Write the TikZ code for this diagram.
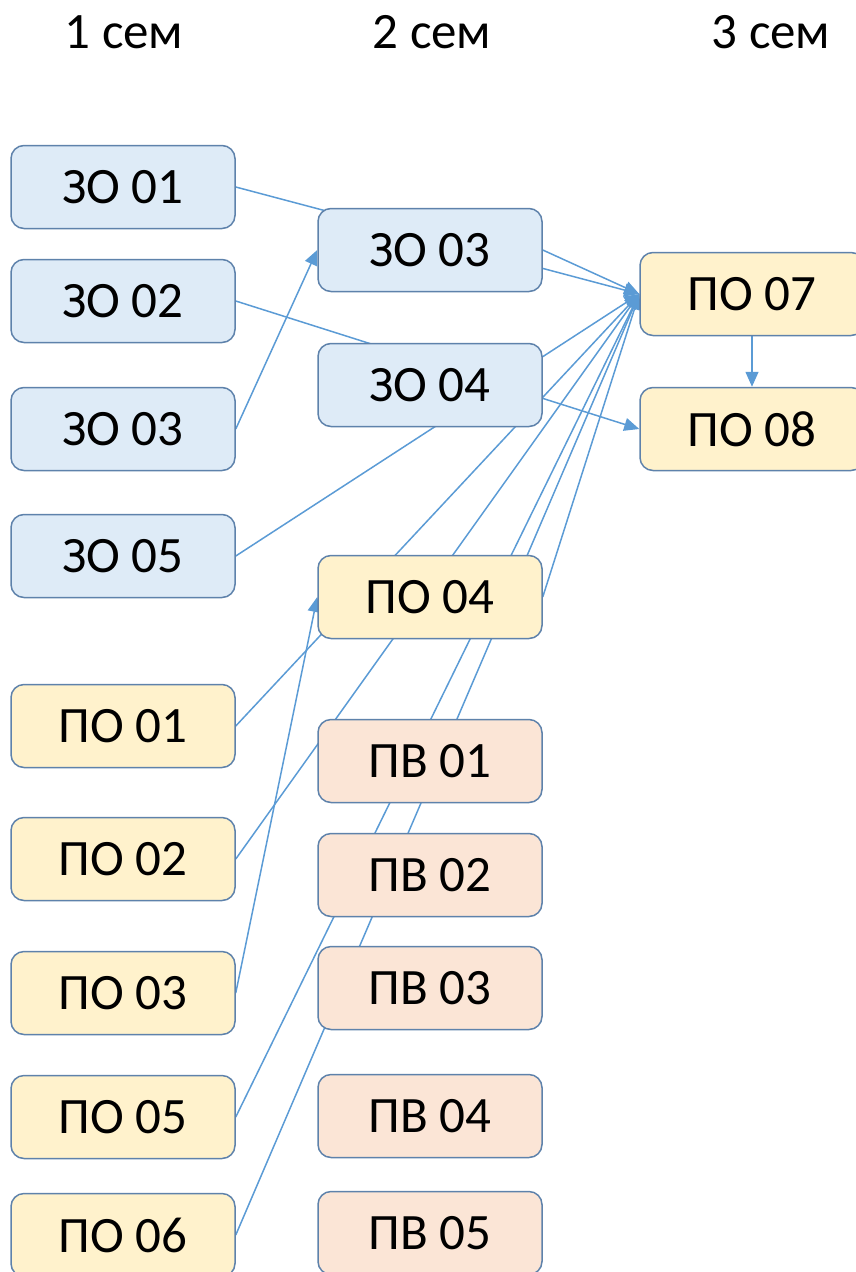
\documentclass[tikz,border=0pt]{standalone}
\usepackage{fontspec}
\setmainfont{Carlito}
\usetikzlibrary{arrows.meta,backgrounds}
\definecolor{lineblue}{HTML}{5B9BD5}
\definecolor{boxborder}{HTML}{5E82AB}
\definecolor{zofill}{HTML}{DEEBF7}
\definecolor{pofill}{HTML}{FFF2CC}
\definecolor{pvfill}{HTML}{FBE5D6}
\begin{document}
\begin{tikzpicture}[x=1pt,y=-1pt,
  box/.style={draw=boxborder, line width=1.5pt, rounded corners=13pt,
    minimum width=224pt, minimum height=83pt, inner sep=0pt,
    font=\fontsize{51}{60}\selectfont},
  zo/.style={box, fill=zofill},
  po/.style={box, fill=pofill},
  pv/.style={box, fill=pvfill},
  head/.style={font=\fontsize{51}{60}\selectfont, inner sep=0pt},
  link/.style={draw=lineblue, line width=1.5pt},
  arr/.style={link, -{Triangle[length=15pt,width=13pt]}}]
\useasboundingbox (0,0) rectangle (856,1272);

% headers
\node[head] (h1) at (124,32) {1 сем};
\node[head] (h2) at (432,32) {2 сем};
\node[head] (h3) at (771,32) {3 сем};

% left column
\node[zo] (a1) at (123,187) {ЗО 01};
\node[zo] (a2) at (123,301) {ЗО 02};
\node[zo] (a3) at (123,429) {ЗО 03};
\node[zo] (a5) at (123,556) {ЗО 05};
\node[po] (b1) at (123,726) {ПО 01};
\node[po] (b2) at (123,859) {ПО 02};
\node[po] (b3) at (123,993) {ПО 03};
\node[po] (b5) at (123,1117) {ПО 05};
\node[po] (b6) at (123,1235) {ПО 06};

% middle column
\node[zo] (m3) at (430,250) {ЗО 03};
\node[zo] (m4) at (430,385) {ЗО 04};
\node[po] (n4) at (430,597) {ПО 04};
\node[pv] (v1) at (430,761) {ПВ 01};
\node[pv] (v2) at (430,875) {ПВ 02};
\node[pv] (v3) at (430,988) {ПВ 03};
\node[pv] (v4) at (430,1116) {ПВ 04};
\node[pv] (v5) at (430,1233) {ПВ 05};

% right column
\node[po] (r7) at (752,294) {ПО 07};
\node[po] (r8) at (752,429) {ПО 08};

\begin{scope}[on background layer]
\draw[arr] (a1.east) -- (r7.west);
\draw[arr] (m3.east) -- (r7.west);
\draw[arr] (a2.east) -- (r8.west);
\draw[arr] (a3.east) -- (m3.west);
\draw[arr] (a5.east) -- (r7.west);
\draw[arr] (b1.east) -- (r7.west);
\draw[arr] (b2.east) -- (r7.west);
\draw[arr] (b3.east) -- (n4.west);
\draw[arr] (n4.east) -- (r7.west);
\draw[arr] (b5.east) -- (r7.west);
\draw[arr] (b6.east) -- (r7.west);
\draw[arr] (r7.south) -- (r8.north);
\end{scope}
\end{tikzpicture}
\end{document}
